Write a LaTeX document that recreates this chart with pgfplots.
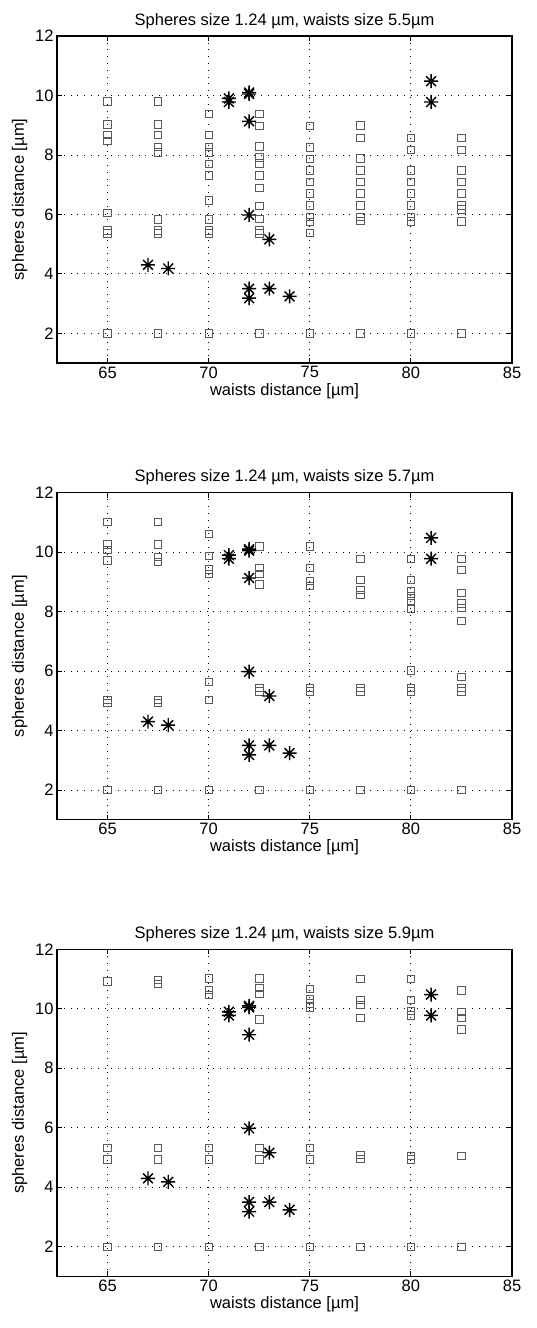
\documentclass[border=0pt]{standalone}
\usepackage{fontspec}
\setmainfont{Liberation Sans}
\usepackage{pgfplots}
\pgfplotsset{compat=1.18}

% matlab-like asterisk: plus and cross together
\pgfdeclareplotmark{mstar}{%
  \pgfpathmoveto{\pgfqpoint{-\pgfplotmarksize}{0pt}}%
  \pgfpathlineto{\pgfqpoint{\pgfplotmarksize}{0pt}}%
  \pgfpathmoveto{\pgfqpoint{0pt}{-\pgfplotmarksize}}%
  \pgfpathlineto{\pgfqpoint{0pt}{\pgfplotmarksize}}%
  \pgfpathmoveto{\pgfqpoint{-0.7\pgfplotmarksize}{-0.7\pgfplotmarksize}}%
  \pgfpathlineto{\pgfqpoint{0.7\pgfplotmarksize}{0.7\pgfplotmarksize}}%
  \pgfpathmoveto{\pgfqpoint{-0.7\pgfplotmarksize}{0.7\pgfplotmarksize}}%
  \pgfpathlineto{\pgfqpoint{0.7\pgfplotmarksize}{-0.7\pgfplotmarksize}}%
  \pgfusepathqstroke}

\pgfplotsset{
  panel/.style={
    scale only axis, width=455pt, height=327pt,
    anchor=south west,
    xmin=62.5, xmax=85, ymin=1, ymax=12,
    xtick={65,70,75,80,85}, ytick={2,4,6,8,10,12},
    tick align=inside, major tick length=5pt,
    every tick/.style={black, line width=0.8pt},
    axis line style={line width=1.3pt},
    grid=major, major grid style={black, line width=0.8pt, dash pattern=on 0.8pt off 6pt},
    /pgf/number format/assume math mode=true,
    tick label style={font=\fontsize{16.5}{18}\selectfont},
    label style={font=\fontsize{16.5}{18}\selectfont},
    title style={font=\fontsize{16.5}{18}\selectfont, yshift=-2pt},
    xlabel={waists distance [µm]}, ylabel={spheres distance [µm]},
    xlabel style={yshift=2pt}, ylabel style={yshift=1pt},
    clip=false,
  },
  sq/.style={only marks, mark=square, mark size=3.7pt, black!65, mark options={line width=0.75pt}},
  st/.style={only marks, mark=mstar, mark size=7pt, black, mark options={line width=1.4pt}},
}

\begin{document}
\begin{tikzpicture}
\path[use as bounding box] (-57pt,-965pt) rectangle (480pt,363pt);

% panel 1
\begin{axis}[panel, at={(0pt,0pt)}, title={Spheres size 1.24 µm, waists size 5.5µm}]
\addplot[sq] coordinates {
(65,9.8)(65,9.03)(65,8.67)(65,8.48)(65,6.06)(65,5.46)(65,5.36)(65,2)
(67.5,9.8)(67.5,9.03)(67.5,8.67)(67.5,8.28)(67.5,8.09)(67.5,5.83)(67.5,5.46)(67.5,5.36)(67.5,2)
(70,9.39)(70,8.67)(70,8.28)(70,8.09)(70,7.7)(70,7.31)(70,6.47)(70,5.83)(70,5.46)(70,5.36)(70,2)
(72.5,9.39)(72.5,8.98)(72.5,8.29)(72.5,7.92)(72.5,7.72)(72.5,7.31)(72.5,6.9)(72.5,6.28)(72.5,5.85)(72.5,5.46)(72.5,5.36)(72.5,2)
(75,8.98)(75,8.26)(75,7.87)(75,7.48)(75,7.09)(75,6.7)(75,6.3)(75,5.91)(75,5.75)(75,5.37)(75,2)
(77.5,8.99)(77.5,8.58)(77.5,7.88)(77.5,7.48)(77.5,7.09)(77.5,6.7)(77.5,6.3)(77.5,5.91)(77.5,5.78)(77.5,2)
(80,8.58)(80,8.17)(80,7.48)(80,7.09)(80,6.7)(80,6.3)(80,5.91)(80,5.77)(80,2)
(82.5,8.58)(82.5,8.17)(82.5,7.48)(82.5,7.09)(82.5,6.7)(82.5,6.3)(82.5,6.17)(82.5,5.77)(82.5,2)
};
\addplot[st] coordinates {
(67,4.3)(68,4.18)(71,9.9)(71,9.78)(72,10.1)(72,10.05)(72,9.13)(72,5.98)
(72,3.5)(72,3.18)(73,5.16)(73,3.5)(74,3.24)(81,10.48)(81,9.78)
};
\end{axis}

% panel 2
\begin{axis}[panel, at={(0pt,-456.7pt)}, title={Spheres size 1.24 µm, waists size 5.7µm}]
\addplot[sq] coordinates {
(65,11.01)(65,10.26)(65,10.07)(65,9.73)(65,5.03)(65,4.93)(65,2)
(67.5,11.01)(67.5,10.26)(67.5,9.84)(67.5,9.68)(67.5,5.03)(67.5,4.93)(67.5,2)
(70,10.61)(70,9.87)(70,9.42)(70,9.26)(70,5.63)(70,5.03)(70,2)
(72.5,10.2)(72.5,9.48)(72.5,9.26)(72.5,8.92)(72.5,5.44)(72.5,5.32)(72.5,2)
(75,10.2)(75,9.48)(75,9.03)(75,8.87)(75,5.44)(75,5.32)(75,2)
(77.5,9.78)(77.5,9.07)(77.5,8.73)(77.5,8.57)(77.5,5.44)(77.5,5.32)(77.5,2)
(80,9.78)(80,9.07)(80,8.7)(80,8.53)(80,8.37)(80,8.09)(80,6.03)(80,5.44)(80,5.32)(80,2)
(82.5,9.78)(82.5,9.4)(82.5,8.64)(82.5,8.28)(82.5,8.12)(82.5,7.68)(82.5,5.81)(82.5,5.44)(82.5,5.32)(82.5,2)
};
\addplot[st] coordinates {
(67,4.3)(68,4.18)(71,9.9)(71,9.78)(72,10.1)(72,10.05)(72,9.13)(72,5.98)
(72,3.5)(72,3.18)(73,5.16)(73,3.5)(74,3.24)(81,10.48)(81,9.78)
};
\end{axis}

% panel 3
\begin{axis}[panel, at={(0pt,-913.4pt)}, title={Spheres size 1.24 µm, waists size 5.9µm}]
\addplot[sq] coordinates {
(65,10.92)(65,5.32)(65,4.94)(65,2)
(67.5,10.98)(67.5,10.85)(67.5,5.32)(67.5,4.94)(67.5,2)
(70,11.03)(70,10.64)(70,10.48)(70,5.32)(70,4.94)(70,2)
(72.5,11.03)(72.5,10.7)(72.5,10.5)(72.5,9.64)(72.5,5.33)(72.5,4.94)(72.5,2)
(75,10.67)(75,10.33)(75,10.18)(75,10.05)(75,5.33)(75,4.94)(75,2)
(77.5,11.0)(77.5,10.3)(77.5,10.14)(77.5,9.7)(77.5,5.08)(77.5,4.96)(77.5,2)
(80,11.0)(80,10.3)(80,9.93)(80,9.78)(80,5.06)(80,4.94)(80,2)
(82.5,10.62)(82.5,9.89)(82.5,9.7)(82.5,9.31)(82.5,5.06)(82.5,2)
};
\addplot[st] coordinates {
(67,4.3)(68,4.18)(71,9.9)(71,9.78)(72,10.1)(72,10.05)(72,9.13)(72,5.98)
(72,3.5)(72,3.18)(73,5.16)(73,3.5)(74,3.24)(81,10.48)(81,9.78)
};
\end{axis}
\end{tikzpicture}
\end{document}
